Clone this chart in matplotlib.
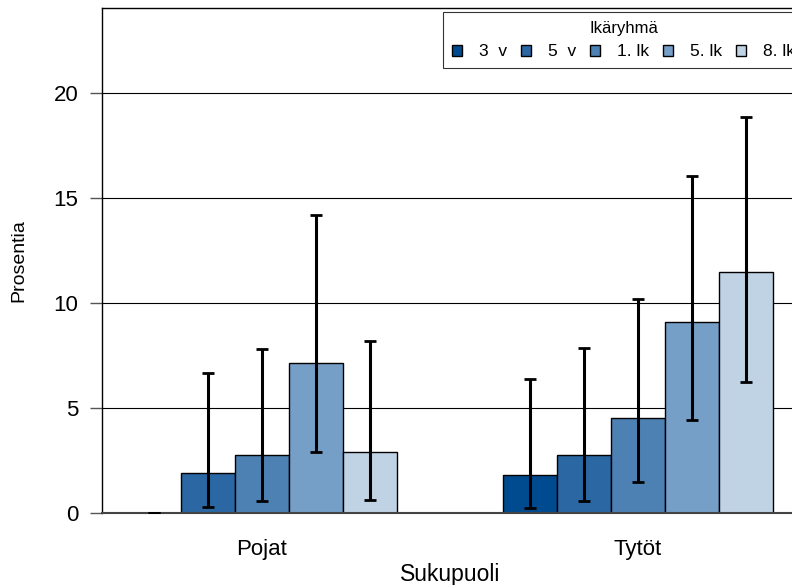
import numpy as np
import matplotlib
matplotlib.use("Agg")
import matplotlib.pyplot as plt

plt.rcParams['font.family'] = ['Liberation Sans', 'DejaVu Sans']

# data
groups = ['Pojat', 'Tytöt']
age_groups = ['3  v', '5  v', '1. lk', '5. lk', '8. lk']
colors = ['#004a8f', '#2a67a3', '#4e81b3', '#759fc7', '#c0d3e4']

values = {
    'Pojat': [0.0, 1.9, 2.75, 7.14, 2.89],
    'Tytöt': [1.81, 2.76, 4.51, 9.11, 11.49],
}
lower = {
    'Pojat': [0.0, 0.29, 0.57, 2.92, 0.6],
    'Tytöt': [0.22, 0.57, 1.49, 4.44, 6.25],
}
upper = {
    'Pojat': [0.0, 6.67, 7.8, 14.19, 8.19],
    'Tytöt': [6.36, 7.84, 10.19, 16.06, 18.87],
}

fig = plt.figure(figsize=(7.92, 5.85), dpi=100)
ax = fig.add_axes([102 / 792, 72 / 585, 696 / 792, 505 / 585])

x = np.arange(len(groups))
width = 0.1436
for i, age in enumerate(age_groups):
    pos = x + (i - 2) * width
    vals = np.array([values[g][i] for g in groups])
    lo = np.array([lower[g][i] for g in groups])
    hi = np.array([upper[g][i] for g in groups])
    ax.bar(pos, vals, width, color=colors[i], edgecolor='black', linewidth=1.0,
           label=age, zorder=2)
    ax.errorbar(pos, vals, yerr=[vals - lo, hi - vals], fmt='none', ecolor='black',
                elinewidth=2.2, capsize=4, capthick=2.0, zorder=3)

ax.set_xlim(-0.4255, 1.4255)
ax.set_ylim(0, 24.05)
ax.set_yticks([0, 5, 10, 15, 20])
ax.set_xticks(x)
ax.set_xticklabels(groups, fontsize=16)
ax.tick_params(axis='x', length=0, pad=19)
ax.tick_params(axis='y', length=9, width=1, color='#555555', labelsize=16, pad=8)
ax.yaxis.grid(True, color='black', linewidth=0.8, zorder=0)
ax.set_axisbelow(True)

for s in ['left', 'top', 'right']:
    ax.spines[s].set_color('black')
    ax.spines[s].set_linewidth(1.0)
ax.spines['bottom'].set_color('#444444')
ax.spines['bottom'].set_linewidth(1.5)

ax.set_xlabel('Sukupuoli', fontsize=16.5, labelpad=2)
ax.set_ylabel('Prosentia', fontsize=14, labelpad=19)

leg = ax.legend(title='Ikäryhmä', ncol=5, loc='upper left',
                bbox_to_anchor=(443 / 792, 1 - 12 / 585), bbox_transform=fig.transFigure,
                fontsize=12.5, title_fontsize=12, frameon=True, fancybox=False,
                handlelength=0.6, handleheight=0.6, handletextpad=1.0,
                columnspacing=0.75, borderpad=0.5, borderaxespad=0)
leg.get_frame().set_edgecolor('black')
leg.get_frame().set_linewidth(0.8)

fig.savefig('out.png', dpi=100)
